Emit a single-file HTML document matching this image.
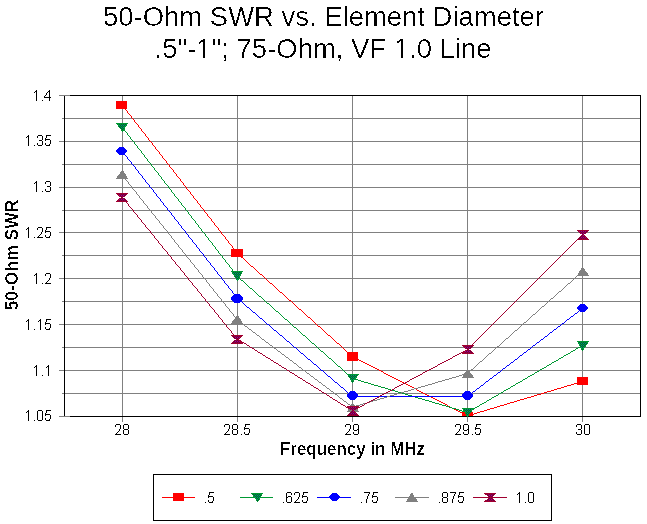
<!DOCTYPE html><html><head><meta charset="utf-8"><title>50-Ohm SWR vs. Element Diameter</title><style>
html,body{margin:0;padding:0;background:#fff;}body{width:647px;height:524px;overflow:hidden;position:relative;font-family:"Liberation Sans",sans-serif;}svg{position:absolute;left:0;top:0;display:block;}
</style></head><body>
<svg width="647" height="524" viewBox="0 0 647 524">
<defs>
<filter id="bin" x="0" y="0" width="647" height="524" filterUnits="userSpaceOnUse"><feComponentTransfer><feFuncA type="discrete" tableValues="0 0 1"/></feComponentTransfer></filter>
</defs>
<g font-family="Liberation Sans, sans-serif" fill="#000" filter="url(#bin)">
<text x="323.5" y="26" font-size="28" text-anchor="middle" textLength="441" lengthAdjust="spacingAndGlyphs">50-Ohm SWR vs. Element Diameter</text>
<text x="323" y="58" font-size="28" text-anchor="middle" textLength="337" lengthAdjust="spacingAndGlyphs">.5"-1"; 75-Ohm, VF 1.0 Line</text>
<text transform="translate(18,255) rotate(-90)" font-size="18" font-weight="bold" text-anchor="middle" textLength="111" lengthAdjust="spacingAndGlyphs">50-Ohm SWR</text>
<text x="352.5" y="455" font-size="18" font-weight="bold" text-anchor="middle" textLength="145" lengthAdjust="spacingAndGlyphs">Frequency in MHz</text>
</g>
<path d="M198 56h5v2h-5zM205 56h5v2h-5zM396 56h5v2h-5zM403 56h4v2h-4z" fill="#fff" shape-rendering="crispEdges"/>
<path d="M36 90h1v1h-1zM49 90h1v1h-1zM35 91h2v1h-2zM48 91h2v1h-2zM34 92h1v1h-1zM36 92h1v1h-1zM47 92h1v1h-1zM49 92h1v1h-1zM36 93h1v1h-1zM46 93h1v1h-1zM49 93h1v1h-1zM36 94h1v1h-1zM46 94h1v1h-1zM49 94h1v1h-1zM36 95h1v1h-1zM45 95h1v1h-1zM49 95h1v1h-1zM36 96h1v1h-1zM44 96h1v1h-1zM49 96h1v1h-1zM36 97h1v1h-1zM44 97h7v1h-7zM36 98h1v1h-1zM49 98h1v1h-1zM36 99h1v1h-1zM49 99h1v1h-1zM36 100h1v1h-1zM42 100h1v1h-1zM49 100h1v1h-1zM28 135h1v1h-1zM38 135h4v1h-4zM46 135h5v1h-5zM27 136h2v1h-2zM37 136h1v1h-1zM42 136h1v1h-1zM46 136h1v1h-1zM26 137h1v1h-1zM28 137h1v1h-1zM37 137h1v1h-1zM42 137h1v1h-1zM46 137h1v1h-1zM28 138h1v1h-1zM42 138h1v1h-1zM45 138h1v1h-1zM28 139h1v1h-1zM42 139h1v1h-1zM45 139h5v1h-5zM28 140h1v1h-1zM39 140h3v1h-3zM45 140h1v1h-1zM50 140h1v1h-1zM28 141h1v1h-1zM42 141h1v1h-1zM50 141h1v1h-1zM28 142h1v1h-1zM42 142h1v1h-1zM50 142h1v1h-1zM28 143h1v1h-1zM37 143h1v1h-1zM42 143h1v1h-1zM45 143h1v1h-1zM50 143h1v1h-1zM28 144h1v1h-1zM37 144h1v1h-1zM42 144h1v1h-1zM45 144h1v1h-1zM49 144h1v1h-1zM28 145h1v1h-1zM34 145h1v1h-1zM38 145h4v1h-4zM46 145h4v1h-4zM36 181h1v1h-1zM46 181h4v1h-4zM35 182h2v1h-2zM45 182h1v1h-1zM50 182h1v1h-1zM34 183h1v1h-1zM36 183h1v1h-1zM45 183h1v1h-1zM50 183h1v1h-1zM36 184h1v1h-1zM50 184h1v1h-1zM36 185h1v1h-1zM50 185h1v1h-1zM36 186h1v1h-1zM47 186h3v1h-3zM36 187h1v1h-1zM50 187h1v1h-1zM36 188h1v1h-1zM50 188h1v1h-1zM36 189h1v1h-1zM45 189h1v1h-1zM50 189h1v1h-1zM36 190h1v1h-1zM45 190h1v1h-1zM50 190h1v1h-1zM36 191h1v1h-1zM42 191h1v1h-1zM46 191h4v1h-4zM28 227h1v1h-1zM38 227h4v1h-4zM46 227h5v1h-5zM27 228h2v1h-2zM37 228h1v1h-1zM42 228h1v1h-1zM46 228h1v1h-1zM26 229h1v1h-1zM28 229h1v1h-1zM37 229h1v1h-1zM42 229h1v1h-1zM46 229h1v1h-1zM28 230h1v1h-1zM42 230h1v1h-1zM45 230h1v1h-1zM28 231h1v1h-1zM42 231h1v1h-1zM45 231h5v1h-5zM28 232h1v1h-1zM41 232h1v1h-1zM45 232h1v1h-1zM50 232h1v1h-1zM28 233h1v1h-1zM41 233h1v1h-1zM50 233h1v1h-1zM28 234h1v1h-1zM40 234h1v1h-1zM50 234h1v1h-1zM28 235h1v1h-1zM39 235h1v1h-1zM45 235h1v1h-1zM50 235h1v1h-1zM28 236h1v1h-1zM38 236h1v1h-1zM45 236h1v1h-1zM49 236h1v1h-1zM28 237h1v1h-1zM34 237h1v1h-1zM37 237h6v1h-6zM46 237h4v1h-4zM36 273h1v1h-1zM46 273h4v1h-4zM35 274h2v1h-2zM45 274h1v1h-1zM50 274h1v1h-1zM34 275h1v1h-1zM36 275h1v1h-1zM45 275h1v1h-1zM50 275h1v1h-1zM36 276h1v1h-1zM50 276h1v1h-1zM36 277h1v1h-1zM50 277h1v1h-1zM36 278h1v1h-1zM49 278h1v1h-1zM36 279h1v1h-1zM49 279h1v1h-1zM36 280h1v1h-1zM48 280h1v1h-1zM36 281h1v1h-1zM47 281h1v1h-1zM36 282h1v1h-1zM46 282h1v1h-1zM36 283h1v1h-1zM42 283h1v1h-1zM45 283h6v1h-6zM28 319h1v1h-1zM40 319h1v1h-1zM46 319h5v1h-5zM27 320h2v1h-2zM39 320h2v1h-2zM46 320h1v1h-1zM26 321h1v1h-1zM28 321h1v1h-1zM38 321h1v1h-1zM40 321h1v1h-1zM46 321h1v1h-1zM28 322h1v1h-1zM40 322h1v1h-1zM45 322h1v1h-1zM28 323h1v1h-1zM40 323h1v1h-1zM45 323h5v1h-5zM28 324h1v1h-1zM40 324h1v1h-1zM45 324h1v1h-1zM50 324h1v1h-1zM28 325h1v1h-1zM40 325h1v1h-1zM50 325h1v1h-1zM28 326h1v1h-1zM40 326h1v1h-1zM50 326h1v1h-1zM28 327h1v1h-1zM40 327h1v1h-1zM45 327h1v1h-1zM50 327h1v1h-1zM28 328h1v1h-1zM40 328h1v1h-1zM45 328h1v1h-1zM49 328h1v1h-1zM28 329h1v1h-1zM34 329h1v1h-1zM40 329h1v1h-1zM46 329h4v1h-4zM36 365h1v1h-1zM48 365h1v1h-1zM35 366h2v1h-2zM47 366h2v1h-2zM34 367h1v1h-1zM36 367h1v1h-1zM46 367h1v1h-1zM48 367h1v1h-1zM36 368h1v1h-1zM48 368h1v1h-1zM36 369h1v1h-1zM48 369h1v1h-1zM36 370h1v1h-1zM48 370h1v1h-1zM36 371h1v1h-1zM48 371h1v1h-1zM36 372h1v1h-1zM48 372h1v1h-1zM36 373h1v1h-1zM48 373h1v1h-1zM36 374h1v1h-1zM48 374h1v1h-1zM36 375h1v1h-1zM42 375h1v1h-1zM48 375h1v1h-1zM28 410h1v1h-1zM38 410h4v1h-4zM46 410h5v1h-5zM27 411h2v1h-2zM37 411h1v1h-1zM42 411h1v1h-1zM46 411h1v1h-1zM26 412h1v1h-1zM28 412h1v1h-1zM37 412h1v1h-1zM42 412h1v1h-1zM46 412h1v1h-1zM28 413h1v1h-1zM37 413h1v1h-1zM42 413h1v1h-1zM45 413h1v1h-1zM28 414h1v1h-1zM37 414h1v1h-1zM42 414h1v1h-1zM45 414h5v1h-5zM28 415h1v1h-1zM37 415h1v1h-1zM42 415h1v1h-1zM45 415h1v1h-1zM50 415h1v1h-1zM28 416h1v1h-1zM37 416h1v1h-1zM42 416h1v1h-1zM50 416h1v1h-1zM28 417h1v1h-1zM37 417h1v1h-1zM42 417h1v1h-1zM50 417h1v1h-1zM28 418h1v1h-1zM37 418h1v1h-1zM42 418h1v1h-1zM45 418h1v1h-1zM50 418h1v1h-1zM28 419h1v1h-1zM37 419h1v1h-1zM42 419h1v1h-1zM45 419h1v1h-1zM49 419h1v1h-1zM28 420h1v1h-1zM34 420h1v1h-1zM38 420h4v1h-4zM46 420h4v1h-4zM116 424h4v1h-4zM124 424h4v1h-4zM115 425h1v1h-1zM120 425h1v1h-1zM123 425h1v1h-1zM128 425h1v1h-1zM115 426h1v1h-1zM120 426h1v1h-1zM123 426h1v1h-1zM128 426h1v1h-1zM120 427h1v1h-1zM123 427h1v1h-1zM128 427h1v1h-1zM120 428h1v1h-1zM123 428h1v1h-1zM128 428h1v1h-1zM119 429h1v1h-1zM124 429h4v1h-4zM119 430h1v1h-1zM123 430h1v1h-1zM128 430h1v1h-1zM118 431h1v1h-1zM123 431h1v1h-1zM128 431h1v1h-1zM117 432h1v1h-1zM123 432h1v1h-1zM128 432h1v1h-1zM116 433h1v1h-1zM123 433h1v1h-1zM128 433h1v1h-1zM115 434h6v1h-6zM124 434h4v1h-4zM225 424h4v1h-4zM233 424h4v1h-4zM245 424h5v1h-5zM224 425h1v1h-1zM229 425h1v1h-1zM232 425h1v1h-1zM237 425h1v1h-1zM245 425h1v1h-1zM224 426h1v1h-1zM229 426h1v1h-1zM232 426h1v1h-1zM237 426h1v1h-1zM245 426h1v1h-1zM229 427h1v1h-1zM232 427h1v1h-1zM237 427h1v1h-1zM244 427h1v1h-1zM229 428h1v1h-1zM232 428h1v1h-1zM237 428h1v1h-1zM244 428h5v1h-5zM228 429h1v1h-1zM233 429h4v1h-4zM244 429h1v1h-1zM249 429h1v1h-1zM228 430h1v1h-1zM232 430h1v1h-1zM237 430h1v1h-1zM249 430h1v1h-1zM227 431h1v1h-1zM232 431h1v1h-1zM237 431h1v1h-1zM249 431h1v1h-1zM226 432h1v1h-1zM232 432h1v1h-1zM237 432h1v1h-1zM244 432h1v1h-1zM249 432h1v1h-1zM225 433h1v1h-1zM232 433h1v1h-1zM237 433h1v1h-1zM244 433h1v1h-1zM248 433h1v1h-1zM224 434h6v1h-6zM233 434h4v1h-4zM241 434h1v1h-1zM245 434h4v1h-4zM346 424h4v1h-4zM354 424h4v1h-4zM345 425h1v1h-1zM350 425h1v1h-1zM353 425h1v1h-1zM358 425h1v1h-1zM345 426h1v1h-1zM350 426h1v1h-1zM353 426h1v1h-1zM358 426h1v1h-1zM350 427h1v1h-1zM353 427h1v1h-1zM358 427h1v1h-1zM350 428h1v1h-1zM353 428h1v1h-1zM358 428h1v1h-1zM349 429h1v1h-1zM353 429h1v1h-1zM357 429h2v1h-2zM349 430h1v1h-1zM354 430h3v1h-3zM358 430h1v1h-1zM348 431h1v1h-1zM358 431h1v1h-1zM347 432h1v1h-1zM353 432h1v1h-1zM358 432h1v1h-1zM346 433h1v1h-1zM353 433h1v1h-1zM358 433h1v1h-1zM345 434h6v1h-6zM354 434h4v1h-4zM456 424h4v1h-4zM464 424h4v1h-4zM476 424h5v1h-5zM455 425h1v1h-1zM460 425h1v1h-1zM463 425h1v1h-1zM468 425h1v1h-1zM476 425h1v1h-1zM455 426h1v1h-1zM460 426h1v1h-1zM463 426h1v1h-1zM468 426h1v1h-1zM476 426h1v1h-1zM460 427h1v1h-1zM463 427h1v1h-1zM468 427h1v1h-1zM475 427h1v1h-1zM460 428h1v1h-1zM463 428h1v1h-1zM468 428h1v1h-1zM475 428h5v1h-5zM459 429h1v1h-1zM463 429h1v1h-1zM467 429h2v1h-2zM475 429h1v1h-1zM480 429h1v1h-1zM459 430h1v1h-1zM464 430h3v1h-3zM468 430h1v1h-1zM480 430h1v1h-1zM458 431h1v1h-1zM468 431h1v1h-1zM480 431h1v1h-1zM457 432h1v1h-1zM463 432h1v1h-1zM468 432h1v1h-1zM475 432h1v1h-1zM480 432h1v1h-1zM456 433h1v1h-1zM463 433h1v1h-1zM468 433h1v1h-1zM475 433h1v1h-1zM479 433h1v1h-1zM455 434h6v1h-6zM464 434h4v1h-4zM472 434h1v1h-1zM476 434h4v1h-4zM577 424h4v1h-4zM585 424h4v1h-4zM576 425h1v1h-1zM581 425h1v1h-1zM584 425h1v1h-1zM589 425h1v1h-1zM576 426h1v1h-1zM581 426h1v1h-1zM584 426h1v1h-1zM589 426h1v1h-1zM581 427h1v1h-1zM584 427h1v1h-1zM589 427h1v1h-1zM581 428h1v1h-1zM584 428h1v1h-1zM589 428h1v1h-1zM578 429h3v1h-3zM584 429h1v1h-1zM589 429h1v1h-1zM581 430h1v1h-1zM584 430h1v1h-1zM589 430h1v1h-1zM581 431h1v1h-1zM584 431h1v1h-1zM589 431h1v1h-1zM576 432h1v1h-1zM581 432h1v1h-1zM584 432h1v1h-1zM589 432h1v1h-1zM576 433h1v1h-1zM581 433h1v1h-1zM584 433h1v1h-1zM589 433h1v1h-1zM577 434h4v1h-4zM585 434h4v1h-4zM209 492h5v1h-5zM209 493h1v1h-1zM209 494h1v1h-1zM208 495h1v1h-1zM208 496h5v1h-5zM208 497h1v1h-1zM213 497h1v1h-1zM213 498h1v1h-1zM213 499h1v1h-1zM208 500h1v1h-1zM213 500h1v1h-1zM208 501h1v1h-1zM212 501h1v1h-1zM205 502h1v1h-1zM209 502h4v1h-4zM287 492h4v1h-4zM295 492h4v1h-4zM303 492h5v1h-5zM286 493h1v1h-1zM291 493h1v1h-1zM294 493h1v1h-1zM299 493h1v1h-1zM303 493h1v1h-1zM286 494h1v1h-1zM291 494h1v1h-1zM294 494h1v1h-1zM299 494h1v1h-1zM303 494h1v1h-1zM286 495h1v1h-1zM299 495h1v1h-1zM302 495h1v1h-1zM286 496h1v1h-1zM288 496h3v1h-3zM299 496h1v1h-1zM302 496h5v1h-5zM286 497h2v1h-2zM291 497h1v1h-1zM298 497h1v1h-1zM302 497h1v1h-1zM307 497h1v1h-1zM286 498h1v1h-1zM291 498h1v1h-1zM298 498h1v1h-1zM307 498h1v1h-1zM286 499h1v1h-1zM291 499h1v1h-1zM297 499h1v1h-1zM307 499h1v1h-1zM286 500h1v1h-1zM291 500h1v1h-1zM296 500h1v1h-1zM302 500h1v1h-1zM307 500h1v1h-1zM286 501h1v1h-1zM291 501h1v1h-1zM295 501h1v1h-1zM302 501h1v1h-1zM306 501h1v1h-1zM283 502h1v1h-1zM287 502h4v1h-4zM294 502h6v1h-6zM303 502h4v1h-4zM364 492h6v1h-6zM373 492h5v1h-5zM369 493h1v1h-1zM373 493h1v1h-1zM368 494h1v1h-1zM373 494h1v1h-1zM368 495h1v1h-1zM372 495h1v1h-1zM367 496h1v1h-1zM372 496h5v1h-5zM367 497h1v1h-1zM372 497h1v1h-1zM377 497h1v1h-1zM367 498h1v1h-1zM377 498h1v1h-1zM366 499h1v1h-1zM377 499h1v1h-1zM366 500h1v1h-1zM372 500h1v1h-1zM377 500h1v1h-1zM366 501h1v1h-1zM372 501h1v1h-1zM376 501h1v1h-1zM361 502h1v1h-1zM366 502h1v1h-1zM373 502h4v1h-4zM443 492h4v1h-4zM450 492h6v1h-6zM459 492h5v1h-5zM442 493h1v1h-1zM447 493h1v1h-1zM455 493h1v1h-1zM459 493h1v1h-1zM442 494h1v1h-1zM447 494h1v1h-1zM454 494h1v1h-1zM459 494h1v1h-1zM442 495h1v1h-1zM447 495h1v1h-1zM454 495h1v1h-1zM458 495h1v1h-1zM442 496h1v1h-1zM447 496h1v1h-1zM453 496h1v1h-1zM458 496h5v1h-5zM443 497h4v1h-4zM453 497h1v1h-1zM458 497h1v1h-1zM463 497h1v1h-1zM442 498h1v1h-1zM447 498h1v1h-1zM453 498h1v1h-1zM463 498h1v1h-1zM442 499h1v1h-1zM447 499h1v1h-1zM452 499h1v1h-1zM463 499h1v1h-1zM442 500h1v1h-1zM447 500h1v1h-1zM452 500h1v1h-1zM458 500h1v1h-1zM463 500h1v1h-1zM442 501h1v1h-1zM447 501h1v1h-1zM452 501h1v1h-1zM458 501h1v1h-1zM462 501h1v1h-1zM439 502h1v1h-1zM443 502h4v1h-4zM452 502h1v1h-1zM459 502h4v1h-4zM519 492h1v1h-1zM529 492h4v1h-4zM518 493h2v1h-2zM528 493h1v1h-1zM533 493h1v1h-1zM517 494h1v1h-1zM519 494h1v1h-1zM528 494h1v1h-1zM533 494h1v1h-1zM519 495h1v1h-1zM528 495h1v1h-1zM533 495h1v1h-1zM519 496h1v1h-1zM528 496h1v1h-1zM533 496h1v1h-1zM519 497h1v1h-1zM528 497h1v1h-1zM533 497h1v1h-1zM519 498h1v1h-1zM528 498h1v1h-1zM533 498h1v1h-1zM519 499h1v1h-1zM528 499h1v1h-1zM533 499h1v1h-1zM519 500h1v1h-1zM528 500h1v1h-1zM533 500h1v1h-1zM519 501h1v1h-1zM528 501h1v1h-1zM533 501h1v1h-1zM519 502h1v1h-1zM525 502h1v1h-1zM529 502h4v1h-4z" fill="#000" shape-rendering="crispEdges"/>
<g shape-rendering="crispEdges" stroke-width="1" fill="none">
<path d="M59 95.5H70" stroke="#808080"/>
<path d="M70 95.5H641" stroke="#000"/>
<path d="M62 118.5H640" stroke="#808080"/>
<path d="M59 141.5H640" stroke="#808080"/>
<path d="M62 164.5H640" stroke="#808080"/>
<path d="M59 187.5H640" stroke="#808080"/>
<path d="M62 210.5H640" stroke="#808080"/>
<path d="M59 232.5H640" stroke="#808080"/>
<path d="M62 255.5H640" stroke="#808080"/>
<path d="M59 278.5H640" stroke="#808080"/>
<path d="M62 301.5H640" stroke="#808080"/>
<path d="M59 324.5H640" stroke="#808080"/>
<path d="M62 347.5H640" stroke="#808080"/>
<path d="M59 370.5H640" stroke="#808080"/>
<path d="M62 393.5H640" stroke="#808080"/>
<path d="M59 416.5H70" stroke="#808080"/>
<path d="M70 416.5H641" stroke="#000"/>
<path d="M122.5 96V422" stroke="#808080"/>
<path d="M237.5 96V422" stroke="#808080"/>
<path d="M352.5 96V422" stroke="#808080"/>
<path d="M467.5 96V422" stroke="#808080"/>
<path d="M582.5 96V422" stroke="#808080"/>
<path d="M64.5 96V416" stroke="#000"/>
<path d="M640.5 95V417" stroke="#000"/>
</g>
<g shape-rendering="crispEdges">
<path d="M122 105h1v1h-1zM123 106h1v1h-1zM124 107h1v1h-1zM124 108h1v1h-1zM125 109h1v1h-1zM126 110h1v1h-1zM127 111h1v1h-1zM127 112h1v1h-1zM128 113h1v1h-1zM129 114h1v1h-1zM130 115h1v1h-1zM131 116h1v1h-1zM131 117h1v1h-1zM132 118h1v1h-1zM133 119h1v1h-1zM134 120h1v1h-1zM134 121h1v1h-1zM135 122h1v1h-1zM136 123h1v1h-1zM137 124h1v1h-1zM138 125h1v1h-1zM138 126h1v1h-1zM139 127h1v1h-1zM140 128h1v1h-1zM141 129h1v1h-1zM141 130h1v1h-1zM142 131h1v1h-1zM143 132h1v1h-1zM144 133h1v1h-1zM145 134h1v1h-1zM145 135h1v1h-1zM146 136h1v1h-1zM147 137h1v1h-1zM148 138h1v1h-1zM148 139h1v1h-1zM149 140h1v1h-1zM150 141h1v1h-1zM151 142h1v1h-1zM152 143h1v1h-1zM152 144h1v1h-1zM153 145h1v1h-1zM154 146h1v1h-1zM155 147h1v1h-1zM155 148h1v1h-1zM156 149h1v1h-1zM157 150h1v1h-1zM158 151h1v1h-1zM159 152h1v1h-1zM159 153h1v1h-1zM160 154h1v1h-1zM161 155h1v1h-1zM162 156h1v1h-1zM162 157h1v1h-1zM163 158h1v1h-1zM164 159h1v1h-1zM165 160h1v1h-1zM166 161h1v1h-1zM166 162h1v1h-1zM167 163h1v1h-1zM168 164h1v1h-1zM169 165h1v1h-1zM169 166h1v1h-1zM170 167h1v1h-1zM171 168h1v1h-1zM172 169h1v1h-1zM173 170h1v1h-1zM173 171h1v1h-1zM174 172h1v1h-1zM175 173h1v1h-1zM176 174h1v1h-1zM176 175h1v1h-1zM177 176h1v1h-1zM178 177h1v1h-1zM179 178h1v1h-1zM180 179h1v1h-1zM180 180h1v1h-1zM181 181h1v1h-1zM182 182h1v1h-1zM183 183h1v1h-1zM183 184h1v1h-1zM184 185h1v1h-1zM185 186h1v1h-1zM186 187h1v1h-1zM186 188h1v1h-1zM187 189h1v1h-1zM188 190h1v1h-1zM189 191h1v1h-1zM190 192h1v1h-1zM190 193h1v1h-1zM191 194h1v1h-1zM192 195h1v1h-1zM193 196h1v1h-1zM193 197h1v1h-1zM194 198h1v1h-1zM195 199h1v1h-1zM196 200h1v1h-1zM197 201h1v1h-1zM197 202h1v1h-1zM198 203h1v1h-1zM199 204h1v1h-1zM200 205h1v1h-1zM200 206h1v1h-1zM201 207h1v1h-1zM202 208h1v1h-1zM203 209h1v1h-1zM204 210h1v1h-1zM204 211h1v1h-1zM205 212h1v1h-1zM206 213h1v1h-1zM207 214h1v1h-1zM207 215h1v1h-1zM208 216h1v1h-1zM209 217h1v1h-1zM210 218h1v1h-1zM211 219h1v1h-1zM211 220h1v1h-1zM212 221h1v1h-1zM213 222h1v1h-1zM214 223h1v1h-1zM214 224h1v1h-1zM215 225h1v1h-1zM216 226h1v1h-1zM217 227h1v1h-1zM218 228h1v1h-1zM218 229h1v1h-1zM219 230h1v1h-1zM220 231h1v1h-1zM221 232h1v1h-1zM221 233h1v1h-1zM222 234h1v1h-1zM223 235h1v1h-1zM224 236h1v1h-1zM225 237h1v1h-1zM225 238h1v1h-1zM226 239h1v1h-1zM227 240h1v1h-1zM228 241h1v1h-1zM228 242h1v1h-1zM229 243h1v1h-1zM230 244h1v1h-1zM231 245h1v1h-1zM232 246h1v1h-1zM232 247h1v1h-1zM233 248h1v1h-1zM234 249h1v1h-1zM235 250h1v1h-1zM235 251h1v1h-1zM236 252h1v1h-1zM237 253h1v1h-1zM238 254h1v1h-1zM239 255h1v1h-1zM240 256h1v1h-1zM241 257h2v1h-2zM243 258h1v1h-1zM244 259h1v1h-1zM245 260h1v1h-1zM246 261h1v1h-1zM247 262h1v1h-1zM248 263h1v1h-1zM249 264h1v1h-1zM250 265h1v1h-1zM251 266h2v1h-2zM253 267h1v1h-1zM254 268h1v1h-1zM255 269h1v1h-1zM256 270h1v1h-1zM257 271h1v1h-1zM258 272h1v1h-1zM259 273h1v1h-1zM260 274h2v1h-2zM262 275h1v1h-1zM263 276h1v1h-1zM264 277h1v1h-1zM265 278h1v1h-1zM266 279h1v1h-1zM267 280h1v1h-1zM268 281h1v1h-1zM269 282h1v1h-1zM270 283h2v1h-2zM272 284h1v1h-1zM273 285h1v1h-1zM274 286h1v1h-1zM275 287h1v1h-1zM276 288h1v1h-1zM277 289h1v1h-1zM278 290h1v1h-1zM279 291h1v1h-1zM280 292h2v1h-2zM282 293h1v1h-1zM283 294h1v1h-1zM284 295h1v1h-1zM285 296h1v1h-1zM286 297h1v1h-1zM287 298h1v1h-1zM288 299h1v1h-1zM289 300h2v1h-2zM291 301h1v1h-1zM292 302h1v1h-1zM293 303h1v1h-1zM294 304h1v1h-1zM295 305h1v1h-1zM296 306h1v1h-1zM297 307h1v1h-1zM298 308h1v1h-1zM299 309h2v1h-2zM301 310h1v1h-1zM302 311h1v1h-1zM303 312h1v1h-1zM304 313h1v1h-1zM305 314h1v1h-1zM306 315h1v1h-1zM307 316h1v1h-1zM308 317h2v1h-2zM310 318h1v1h-1zM311 319h1v1h-1zM312 320h1v1h-1zM313 321h1v1h-1zM314 322h1v1h-1zM315 323h1v1h-1zM316 324h1v1h-1zM317 325h1v1h-1zM318 326h2v1h-2zM320 327h1v1h-1zM321 328h1v1h-1zM322 329h1v1h-1zM323 330h1v1h-1zM324 331h1v1h-1zM325 332h1v1h-1zM326 333h1v1h-1zM327 334h1v1h-1zM328 335h2v1h-2zM330 336h1v1h-1zM331 337h1v1h-1zM332 338h1v1h-1zM333 339h1v1h-1zM334 340h1v1h-1zM335 341h1v1h-1zM336 342h1v1h-1zM337 343h2v1h-2zM339 344h1v1h-1zM340 345h1v1h-1zM341 346h1v1h-1zM342 347h1v1h-1zM343 348h1v1h-1zM344 349h1v1h-1zM345 350h1v1h-1zM346 351h1v1h-1zM347 352h2v1h-2zM349 353h1v1h-1zM350 354h1v1h-1zM351 355h1v1h-1zM352 356h1v1h-1zM353 357h2v1h-2zM355 358h2v1h-2zM357 359h2v1h-2zM359 360h2v1h-2zM361 361h2v1h-2zM363 362h2v1h-2zM365 363h2v1h-2zM367 364h2v1h-2zM369 365h2v1h-2zM371 366h2v1h-2zM373 367h2v1h-2zM375 368h2v1h-2zM377 369h2v1h-2zM379 370h2v1h-2zM381 371h2v1h-2zM383 372h1v1h-1zM384 373h2v1h-2zM386 374h2v1h-2zM388 375h2v1h-2zM390 376h2v1h-2zM392 377h2v1h-2zM394 378h2v1h-2zM396 379h2v1h-2zM398 380h2v1h-2zM400 381h2v1h-2zM581 381h2v1h-2zM402 382h2v1h-2zM577 382h4v1h-4zM404 383h2v1h-2zM574 383h3v1h-3zM406 384h2v1h-2zM571 384h3v1h-3zM408 385h2v1h-2zM567 385h4v1h-4zM410 386h2v1h-2zM564 386h3v1h-3zM412 387h2v1h-2zM561 387h3v1h-3zM414 388h2v1h-2zM557 388h4v1h-4zM416 389h1v1h-1zM554 389h3v1h-3zM417 390h2v1h-2zM551 390h3v1h-3zM419 391h2v1h-2zM547 391h4v1h-4zM421 392h2v1h-2zM544 392h3v1h-3zM423 393h2v1h-2zM541 393h3v1h-3zM425 394h2v1h-2zM537 394h4v1h-4zM427 395h2v1h-2zM534 395h3v1h-3zM429 396h2v1h-2zM531 396h3v1h-3zM431 397h2v1h-2zM527 397h4v1h-4zM433 398h2v1h-2zM524 398h3v1h-3zM435 399h2v1h-2zM520 399h4v1h-4zM437 400h2v1h-2zM517 400h3v1h-3zM439 401h2v1h-2zM514 401h3v1h-3zM441 402h2v1h-2zM510 402h4v1h-4zM443 403h2v1h-2zM507 403h3v1h-3zM445 404h2v1h-2zM504 404h3v1h-3zM447 405h1v1h-1zM500 405h4v1h-4zM448 406h2v1h-2zM497 406h3v1h-3zM450 407h2v1h-2zM494 407h3v1h-3zM452 408h2v1h-2zM490 408h4v1h-4zM454 409h2v1h-2zM487 409h3v1h-3zM456 410h2v1h-2zM484 410h3v1h-3zM458 411h2v1h-2zM480 411h4v1h-4zM460 412h2v1h-2zM477 412h3v1h-3zM462 413h2v1h-2zM474 413h3v1h-3zM464 414h2v1h-2zM470 414h4v1h-4zM466 415h4v1h-4z" fill="#ff0000"/>
<path d="M122 127h1v1h-1zM123 128h1v1h-1zM124 129h1v1h-1zM124 130h1v1h-1zM125 131h1v1h-1zM126 132h1v1h-1zM127 133h1v1h-1zM127 134h1v1h-1zM128 135h1v1h-1zM129 136h1v1h-1zM130 137h1v1h-1zM130 138h1v1h-1zM131 139h1v1h-1zM132 140h1v1h-1zM133 141h1v1h-1zM134 142h1v1h-1zM134 143h1v1h-1zM135 144h1v1h-1zM136 145h1v1h-1zM137 146h1v1h-1zM137 147h1v1h-1zM138 148h1v1h-1zM139 149h1v1h-1zM140 150h1v1h-1zM141 151h1v1h-1zM141 152h1v1h-1zM142 153h1v1h-1zM143 154h1v1h-1zM144 155h1v1h-1zM144 156h1v1h-1zM145 157h1v1h-1zM146 158h1v1h-1zM147 159h1v1h-1zM147 160h1v1h-1zM148 161h1v1h-1zM149 162h1v1h-1zM150 163h1v1h-1zM151 164h1v1h-1zM151 165h1v1h-1zM152 166h1v1h-1zM153 167h1v1h-1zM154 168h1v1h-1zM154 169h1v1h-1zM155 170h1v1h-1zM156 171h1v1h-1zM157 172h1v1h-1zM158 173h1v1h-1zM158 174h1v1h-1zM159 175h1v1h-1zM160 176h1v1h-1zM161 177h1v1h-1zM161 178h1v1h-1zM162 179h1v1h-1zM163 180h1v1h-1zM164 181h1v1h-1zM164 182h1v1h-1zM165 183h1v1h-1zM166 184h1v1h-1zM167 185h1v1h-1zM168 186h1v1h-1zM168 187h1v1h-1zM169 188h1v1h-1zM170 189h1v1h-1zM171 190h1v1h-1zM171 191h1v1h-1zM172 192h1v1h-1zM173 193h1v1h-1zM174 194h1v1h-1zM174 195h1v1h-1zM175 196h1v1h-1zM176 197h1v1h-1zM177 198h1v1h-1zM178 199h1v1h-1zM178 200h1v1h-1zM179 201h1v1h-1zM180 202h1v1h-1zM181 203h1v1h-1zM181 204h1v1h-1zM182 205h1v1h-1zM183 206h1v1h-1zM184 207h1v1h-1zM185 208h1v1h-1zM185 209h1v1h-1zM186 210h1v1h-1zM187 211h1v1h-1zM188 212h1v1h-1zM188 213h1v1h-1zM189 214h1v1h-1zM190 215h1v1h-1zM191 216h1v1h-1zM191 217h1v1h-1zM192 218h1v1h-1zM193 219h1v1h-1zM194 220h1v1h-1zM195 221h1v1h-1zM195 222h1v1h-1zM196 223h1v1h-1zM197 224h1v1h-1zM198 225h1v1h-1zM198 226h1v1h-1zM199 227h1v1h-1zM200 228h1v1h-1zM201 229h1v1h-1zM201 230h1v1h-1zM202 231h1v1h-1zM203 232h1v1h-1zM204 233h1v1h-1zM205 234h1v1h-1zM205 235h1v1h-1zM206 236h1v1h-1zM207 237h1v1h-1zM208 238h1v1h-1zM208 239h1v1h-1zM209 240h1v1h-1zM210 241h1v1h-1zM211 242h1v1h-1zM212 243h1v1h-1zM212 244h1v1h-1zM213 245h1v1h-1zM214 246h1v1h-1zM215 247h1v1h-1zM215 248h1v1h-1zM216 249h1v1h-1zM217 250h1v1h-1zM218 251h1v1h-1zM218 252h1v1h-1zM219 253h1v1h-1zM220 254h1v1h-1zM221 255h1v1h-1zM222 256h1v1h-1zM222 257h1v1h-1zM223 258h1v1h-1zM224 259h1v1h-1zM225 260h1v1h-1zM225 261h1v1h-1zM226 262h1v1h-1zM227 263h1v1h-1zM228 264h1v1h-1zM229 265h1v1h-1zM229 266h1v1h-1zM230 267h1v1h-1zM231 268h1v1h-1zM232 269h1v1h-1zM232 270h1v1h-1zM233 271h1v1h-1zM234 272h1v1h-1zM235 273h1v1h-1zM235 274h1v1h-1zM236 275h1v1h-1zM237 276h1v1h-1zM238 277h1v1h-1zM239 278h1v1h-1zM240 279h1v1h-1zM241 280h2v1h-2zM243 281h1v1h-1zM244 282h1v1h-1zM245 283h1v1h-1zM246 284h1v1h-1zM247 285h1v1h-1zM248 286h1v1h-1zM249 287h1v1h-1zM250 288h2v1h-2zM252 289h1v1h-1zM253 290h1v1h-1zM254 291h1v1h-1zM255 292h1v1h-1zM256 293h1v1h-1zM257 294h1v1h-1zM258 295h1v1h-1zM259 296h2v1h-2zM261 297h1v1h-1zM262 298h1v1h-1zM263 299h1v1h-1zM264 300h1v1h-1zM265 301h1v1h-1zM266 302h1v1h-1zM267 303h2v1h-2zM269 304h1v1h-1zM270 305h1v1h-1zM271 306h1v1h-1zM272 307h1v1h-1zM273 308h1v1h-1zM274 309h1v1h-1zM275 310h1v1h-1zM276 311h2v1h-2zM278 312h1v1h-1zM279 313h1v1h-1zM280 314h1v1h-1zM281 315h1v1h-1zM282 316h1v1h-1zM283 317h1v1h-1zM284 318h1v1h-1zM285 319h2v1h-2zM287 320h1v1h-1zM288 321h1v1h-1zM289 322h1v1h-1zM290 323h1v1h-1zM291 324h1v1h-1zM292 325h1v1h-1zM293 326h1v1h-1zM294 327h2v1h-2zM296 328h1v1h-1zM297 329h1v1h-1zM298 330h1v1h-1zM299 331h1v1h-1zM300 332h1v1h-1zM301 333h1v1h-1zM302 334h1v1h-1zM303 335h2v1h-2zM305 336h1v1h-1zM306 337h1v1h-1zM307 338h1v1h-1zM308 339h1v1h-1zM309 340h1v1h-1zM310 341h1v1h-1zM311 342h1v1h-1zM312 343h2v1h-2zM314 344h1v1h-1zM315 345h1v1h-1zM582 345h1v1h-1zM316 346h1v1h-1zM580 346h2v1h-2zM317 347h1v1h-1zM578 347h2v1h-2zM318 348h1v1h-1zM576 348h2v1h-2zM319 349h1v1h-1zM575 349h1v1h-1zM320 350h1v1h-1zM573 350h2v1h-2zM321 351h2v1h-2zM571 351h2v1h-2zM323 352h1v1h-1zM570 352h1v1h-1zM324 353h1v1h-1zM568 353h2v1h-2zM325 354h1v1h-1zM566 354h2v1h-2zM326 355h1v1h-1zM564 355h2v1h-2zM327 356h1v1h-1zM563 356h1v1h-1zM328 357h1v1h-1zM561 357h2v1h-2zM329 358h2v1h-2zM559 358h2v1h-2zM331 359h1v1h-1zM558 359h1v1h-1zM332 360h1v1h-1zM556 360h2v1h-2zM333 361h1v1h-1zM554 361h2v1h-2zM334 362h1v1h-1zM552 362h2v1h-2zM335 363h1v1h-1zM551 363h1v1h-1zM336 364h1v1h-1zM549 364h2v1h-2zM337 365h1v1h-1zM547 365h2v1h-2zM338 366h2v1h-2zM546 366h1v1h-1zM340 367h1v1h-1zM544 367h2v1h-2zM341 368h1v1h-1zM542 368h2v1h-2zM342 369h1v1h-1zM540 369h2v1h-2zM343 370h1v1h-1zM539 370h1v1h-1zM344 371h1v1h-1zM537 371h2v1h-2zM345 372h1v1h-1zM535 372h2v1h-2zM346 373h1v1h-1zM534 373h1v1h-1zM347 374h2v1h-2zM532 374h2v1h-2zM349 375h1v1h-1zM530 375h2v1h-2zM350 376h1v1h-1zM528 376h2v1h-2zM351 377h1v1h-1zM527 377h1v1h-1zM352 378h2v1h-2zM525 378h2v1h-2zM354 379h4v1h-4zM523 379h2v1h-2zM358 380h3v1h-3zM522 380h1v1h-1zM361 381h3v1h-3zM520 381h2v1h-2zM364 382h4v1h-4zM518 382h2v1h-2zM368 383h3v1h-3zM516 383h2v1h-2zM371 384h3v1h-3zM515 384h1v1h-1zM374 385h4v1h-4zM513 385h2v1h-2zM378 386h3v1h-3zM511 386h2v1h-2zM381 387h4v1h-4zM510 387h1v1h-1zM385 388h3v1h-3zM508 388h2v1h-2zM388 389h3v1h-3zM506 389h2v1h-2zM391 390h4v1h-4zM504 390h2v1h-2zM395 391h3v1h-3zM503 391h1v1h-1zM398 392h4v1h-4zM501 392h2v1h-2zM402 393h3v1h-3zM499 393h2v1h-2zM405 394h3v1h-3zM498 394h1v1h-1zM408 395h4v1h-4zM496 395h2v1h-2zM412 396h3v1h-3zM494 396h2v1h-2zM415 397h3v1h-3zM492 397h2v1h-2zM418 398h4v1h-4zM491 398h1v1h-1zM422 399h3v1h-3zM489 399h2v1h-2zM425 400h4v1h-4zM487 400h2v1h-2zM429 401h3v1h-3zM486 401h1v1h-1zM432 402h3v1h-3zM484 402h2v1h-2zM435 403h4v1h-4zM482 403h2v1h-2zM439 404h3v1h-3zM480 404h2v1h-2zM442 405h4v1h-4zM479 405h1v1h-1zM446 406h3v1h-3zM477 406h2v1h-2zM449 407h3v1h-3zM475 407h2v1h-2zM452 408h4v1h-4zM474 408h1v1h-1zM456 409h3v1h-3zM472 409h2v1h-2zM459 410h3v1h-3zM470 410h2v1h-2zM462 411h4v1h-4zM468 411h2v1h-2zM466 412h2v1h-2z" fill="#009933"/>
<path d="M122 151h1v1h-1zM123 152h1v1h-1zM124 153h1v1h-1zM124 154h1v1h-1zM125 155h1v1h-1zM126 156h1v1h-1zM127 157h1v1h-1zM127 158h1v1h-1zM128 159h1v1h-1zM129 160h1v1h-1zM130 161h1v1h-1zM131 162h1v1h-1zM131 163h1v1h-1zM132 164h1v1h-1zM133 165h1v1h-1zM134 166h1v1h-1zM135 167h1v1h-1zM135 168h1v1h-1zM136 169h1v1h-1zM137 170h1v1h-1zM138 171h1v1h-1zM138 172h1v1h-1zM139 173h1v1h-1zM140 174h1v1h-1zM141 175h1v1h-1zM142 176h1v1h-1zM142 177h1v1h-1zM143 178h1v1h-1zM144 179h1v1h-1zM145 180h1v1h-1zM145 181h1v1h-1zM146 182h1v1h-1zM147 183h1v1h-1zM148 184h1v1h-1zM149 185h1v1h-1zM149 186h1v1h-1zM150 187h1v1h-1zM151 188h1v1h-1zM152 189h1v1h-1zM153 190h1v1h-1zM153 191h1v1h-1zM154 192h1v1h-1zM155 193h1v1h-1zM156 194h1v1h-1zM156 195h1v1h-1zM157 196h1v1h-1zM158 197h1v1h-1zM159 198h1v1h-1zM160 199h1v1h-1zM160 200h1v1h-1zM161 201h1v1h-1zM162 202h1v1h-1zM163 203h1v1h-1zM163 204h1v1h-1zM164 205h1v1h-1zM165 206h1v1h-1zM166 207h1v1h-1zM167 208h1v1h-1zM167 209h1v1h-1zM168 210h1v1h-1zM169 211h1v1h-1zM170 212h1v1h-1zM171 213h1v1h-1zM171 214h1v1h-1zM172 215h1v1h-1zM173 216h1v1h-1zM174 217h1v1h-1zM174 218h1v1h-1zM175 219h1v1h-1zM176 220h1v1h-1zM177 221h1v1h-1zM178 222h1v1h-1zM178 223h1v1h-1zM179 224h1v1h-1zM180 225h1v1h-1zM181 226h1v1h-1zM181 227h1v1h-1zM182 228h1v1h-1zM183 229h1v1h-1zM184 230h1v1h-1zM185 231h1v1h-1zM185 232h1v1h-1zM186 233h1v1h-1zM187 234h1v1h-1zM188 235h1v1h-1zM188 236h1v1h-1zM189 237h1v1h-1zM190 238h1v1h-1zM191 239h1v1h-1zM192 240h1v1h-1zM192 241h1v1h-1zM193 242h1v1h-1zM194 243h1v1h-1zM195 244h1v1h-1zM196 245h1v1h-1zM196 246h1v1h-1zM197 247h1v1h-1zM198 248h1v1h-1zM199 249h1v1h-1zM199 250h1v1h-1zM200 251h1v1h-1zM201 252h1v1h-1zM202 253h1v1h-1zM203 254h1v1h-1zM203 255h1v1h-1zM204 256h1v1h-1zM205 257h1v1h-1zM206 258h1v1h-1zM206 259h1v1h-1zM207 260h1v1h-1zM208 261h1v1h-1zM209 262h1v1h-1zM210 263h1v1h-1zM210 264h1v1h-1zM211 265h1v1h-1zM212 266h1v1h-1zM213 267h1v1h-1zM214 268h1v1h-1zM214 269h1v1h-1zM215 270h1v1h-1zM216 271h1v1h-1zM217 272h1v1h-1zM217 273h1v1h-1zM218 274h1v1h-1zM219 275h1v1h-1zM220 276h1v1h-1zM221 277h1v1h-1zM221 278h1v1h-1zM222 279h1v1h-1zM223 280h1v1h-1zM224 281h1v1h-1zM224 282h1v1h-1zM225 283h1v1h-1zM226 284h1v1h-1zM227 285h1v1h-1zM228 286h1v1h-1zM228 287h1v1h-1zM229 288h1v1h-1zM230 289h1v1h-1zM231 290h1v1h-1zM232 291h1v1h-1zM232 292h1v1h-1zM233 293h1v1h-1zM234 294h1v1h-1zM235 295h1v1h-1zM235 296h1v1h-1zM236 297h1v1h-1zM237 298h1v1h-1zM238 299h1v1h-1zM239 300h1v1h-1zM240 301h2v1h-2zM242 302h1v1h-1zM243 303h1v1h-1zM244 304h1v1h-1zM245 305h1v1h-1zM246 306h1v1h-1zM247 307h2v1h-2zM249 308h1v1h-1zM582 308h1v1h-1zM250 309h1v1h-1zM581 309h1v1h-1zM251 310h1v1h-1zM579 310h2v1h-2zM252 311h1v1h-1zM578 311h1v1h-1zM253 312h2v1h-2zM577 312h1v1h-1zM255 313h1v1h-1zM575 313h2v1h-2zM256 314h1v1h-1zM574 314h1v1h-1zM257 315h1v1h-1zM573 315h1v1h-1zM258 316h1v1h-1zM571 316h2v1h-2zM259 317h1v1h-1zM570 317h1v1h-1zM260 318h2v1h-2zM569 318h1v1h-1zM262 319h1v1h-1zM567 319h2v1h-2zM263 320h1v1h-1zM566 320h1v1h-1zM264 321h1v1h-1zM565 321h1v1h-1zM265 322h1v1h-1zM564 322h1v1h-1zM266 323h1v1h-1zM562 323h2v1h-2zM267 324h2v1h-2zM561 324h1v1h-1zM269 325h1v1h-1zM560 325h1v1h-1zM270 326h1v1h-1zM558 326h2v1h-2zM271 327h1v1h-1zM557 327h1v1h-1zM272 328h1v1h-1zM556 328h1v1h-1zM273 329h1v1h-1zM554 329h2v1h-2zM274 330h2v1h-2zM553 330h1v1h-1zM276 331h1v1h-1zM552 331h1v1h-1zM277 332h1v1h-1zM550 332h2v1h-2zM278 333h1v1h-1zM549 333h1v1h-1zM279 334h1v1h-1zM548 334h1v1h-1zM280 335h2v1h-2zM547 335h1v1h-1zM282 336h1v1h-1zM545 336h2v1h-2zM283 337h1v1h-1zM544 337h1v1h-1zM284 338h1v1h-1zM543 338h1v1h-1zM285 339h1v1h-1zM541 339h2v1h-2zM286 340h1v1h-1zM540 340h1v1h-1zM287 341h2v1h-2zM539 341h1v1h-1zM289 342h1v1h-1zM537 342h2v1h-2zM290 343h1v1h-1zM536 343h1v1h-1zM291 344h1v1h-1zM535 344h1v1h-1zM292 345h1v1h-1zM533 345h2v1h-2zM293 346h1v1h-1zM532 346h1v1h-1zM294 347h2v1h-2zM531 347h1v1h-1zM296 348h1v1h-1zM530 348h1v1h-1zM297 349h1v1h-1zM528 349h2v1h-2zM298 350h1v1h-1zM527 350h1v1h-1zM299 351h1v1h-1zM526 351h1v1h-1zM300 352h1v1h-1zM524 352h2v1h-2zM301 353h2v1h-2zM523 353h1v1h-1zM303 354h1v1h-1zM522 354h1v1h-1zM304 355h1v1h-1zM520 355h2v1h-2zM305 356h1v1h-1zM519 356h1v1h-1zM306 357h1v1h-1zM518 357h1v1h-1zM307 358h1v1h-1zM517 358h1v1h-1zM308 359h2v1h-2zM515 359h2v1h-2zM310 360h1v1h-1zM514 360h1v1h-1zM311 361h1v1h-1zM513 361h1v1h-1zM312 362h1v1h-1zM511 362h2v1h-2zM313 363h1v1h-1zM510 363h1v1h-1zM314 364h2v1h-2zM509 364h1v1h-1zM316 365h1v1h-1zM507 365h2v1h-2zM317 366h1v1h-1zM506 366h1v1h-1zM318 367h1v1h-1zM505 367h1v1h-1zM319 368h1v1h-1zM503 368h2v1h-2zM320 369h1v1h-1zM502 369h1v1h-1zM321 370h2v1h-2zM501 370h1v1h-1zM323 371h1v1h-1zM500 371h1v1h-1zM324 372h1v1h-1zM498 372h2v1h-2zM325 373h1v1h-1zM497 373h1v1h-1zM326 374h1v1h-1zM496 374h1v1h-1zM327 375h1v1h-1zM494 375h2v1h-2zM328 376h2v1h-2zM493 376h1v1h-1zM330 377h1v1h-1zM492 377h1v1h-1zM331 378h1v1h-1zM490 378h2v1h-2zM332 379h1v1h-1zM489 379h1v1h-1zM333 380h1v1h-1zM488 380h1v1h-1zM334 381h1v1h-1zM486 381h2v1h-2zM335 382h2v1h-2zM485 382h1v1h-1zM337 383h1v1h-1zM484 383h1v1h-1zM338 384h1v1h-1zM483 384h1v1h-1zM339 385h1v1h-1zM481 385h2v1h-2zM340 386h1v1h-1zM480 386h1v1h-1zM341 387h2v1h-2zM479 387h1v1h-1zM343 388h1v1h-1zM477 388h2v1h-2zM344 389h1v1h-1zM476 389h1v1h-1zM345 390h1v1h-1zM475 390h1v1h-1zM346 391h1v1h-1zM473 391h2v1h-2zM347 392h1v1h-1zM472 392h1v1h-1zM348 393h2v1h-2zM471 393h1v1h-1zM350 394h1v1h-1zM469 394h2v1h-2zM351 395h1v1h-1zM468 395h1v1h-1zM352 396h116v1h-116z" fill="#0000ff"/>
<path d="M122 175h1v1h-1zM123 176h1v1h-1zM124 177h1v1h-1zM124 178h1v1h-1zM125 179h1v1h-1zM126 180h1v1h-1zM127 181h1v1h-1zM128 182h1v1h-1zM128 183h1v1h-1zM129 184h1v1h-1zM130 185h1v1h-1zM131 186h1v1h-1zM132 187h1v1h-1zM132 188h1v1h-1zM133 189h1v1h-1zM134 190h1v1h-1zM135 191h1v1h-1zM136 192h1v1h-1zM136 193h1v1h-1zM137 194h1v1h-1zM138 195h1v1h-1zM139 196h1v1h-1zM139 197h1v1h-1zM140 198h1v1h-1zM141 199h1v1h-1zM142 200h1v1h-1zM143 201h1v1h-1zM143 202h1v1h-1zM144 203h1v1h-1zM145 204h1v1h-1zM146 205h1v1h-1zM147 206h1v1h-1zM147 207h1v1h-1zM148 208h1v1h-1zM149 209h1v1h-1zM150 210h1v1h-1zM151 211h1v1h-1zM151 212h1v1h-1zM152 213h1v1h-1zM153 214h1v1h-1zM154 215h1v1h-1zM155 216h1v1h-1zM155 217h1v1h-1zM156 218h1v1h-1zM157 219h1v1h-1zM158 220h1v1h-1zM159 221h1v1h-1zM159 222h1v1h-1zM160 223h1v1h-1zM161 224h1v1h-1zM162 225h1v1h-1zM163 226h1v1h-1zM163 227h1v1h-1zM164 228h1v1h-1zM165 229h1v1h-1zM166 230h1v1h-1zM167 231h1v1h-1zM167 232h1v1h-1zM168 233h1v1h-1zM169 234h1v1h-1zM170 235h1v1h-1zM171 236h1v1h-1zM171 237h1v1h-1zM172 238h1v1h-1zM173 239h1v1h-1zM174 240h1v1h-1zM174 241h1v1h-1zM175 242h1v1h-1zM176 243h1v1h-1zM177 244h1v1h-1zM178 245h1v1h-1zM178 246h1v1h-1zM179 247h1v1h-1zM180 248h1v1h-1zM181 249h1v1h-1zM182 250h1v1h-1zM182 251h1v1h-1zM183 252h1v1h-1zM184 253h1v1h-1zM185 254h1v1h-1zM186 255h1v1h-1zM186 256h1v1h-1zM187 257h1v1h-1zM188 258h1v1h-1zM189 259h1v1h-1zM190 260h1v1h-1zM190 261h1v1h-1zM191 262h1v1h-1zM192 263h1v1h-1zM193 264h1v1h-1zM194 265h1v1h-1zM194 266h1v1h-1zM195 267h1v1h-1zM196 268h1v1h-1zM197 269h1v1h-1zM198 270h1v1h-1zM198 271h1v1h-1zM582 271h1v1h-1zM199 272h1v1h-1zM581 272h1v1h-1zM200 273h1v1h-1zM580 273h1v1h-1zM201 274h1v1h-1zM579 274h1v1h-1zM202 275h1v1h-1zM577 275h2v1h-2zM202 276h1v1h-1zM576 276h1v1h-1zM203 277h1v1h-1zM575 277h1v1h-1zM204 278h1v1h-1zM574 278h1v1h-1zM205 279h1v1h-1zM573 279h1v1h-1zM206 280h1v1h-1zM572 280h1v1h-1zM206 281h1v1h-1zM571 281h1v1h-1zM207 282h1v1h-1zM570 282h1v1h-1zM208 283h1v1h-1zM568 283h2v1h-2zM209 284h1v1h-1zM567 284h1v1h-1zM209 285h1v1h-1zM566 285h1v1h-1zM210 286h1v1h-1zM565 286h1v1h-1zM211 287h1v1h-1zM564 287h1v1h-1zM212 288h1v1h-1zM563 288h1v1h-1zM213 289h1v1h-1zM562 289h1v1h-1zM213 290h1v1h-1zM561 290h1v1h-1zM214 291h1v1h-1zM559 291h2v1h-2zM215 292h1v1h-1zM558 292h1v1h-1zM216 293h1v1h-1zM557 293h1v1h-1zM217 294h1v1h-1zM556 294h1v1h-1zM217 295h1v1h-1zM555 295h1v1h-1zM218 296h1v1h-1zM554 296h1v1h-1zM219 297h1v1h-1zM553 297h1v1h-1zM220 298h1v1h-1zM551 298h2v1h-2zM221 299h1v1h-1zM550 299h1v1h-1zM221 300h1v1h-1zM549 300h1v1h-1zM222 301h1v1h-1zM548 301h1v1h-1zM223 302h1v1h-1zM547 302h1v1h-1zM224 303h1v1h-1zM546 303h1v1h-1zM225 304h1v1h-1zM545 304h1v1h-1zM225 305h1v1h-1zM544 305h1v1h-1zM226 306h1v1h-1zM542 306h2v1h-2zM227 307h1v1h-1zM541 307h1v1h-1zM228 308h1v1h-1zM540 308h1v1h-1zM229 309h1v1h-1zM539 309h1v1h-1zM229 310h1v1h-1zM538 310h1v1h-1zM230 311h1v1h-1zM537 311h1v1h-1zM231 312h1v1h-1zM536 312h1v1h-1zM232 313h1v1h-1zM535 313h1v1h-1zM233 314h1v1h-1zM533 314h2v1h-2zM233 315h1v1h-1zM532 315h1v1h-1zM234 316h1v1h-1zM531 316h1v1h-1zM235 317h1v1h-1zM530 317h1v1h-1zM236 318h1v1h-1zM529 318h1v1h-1zM237 319h1v1h-1zM528 319h1v1h-1zM237 320h2v1h-2zM527 320h1v1h-1zM239 321h1v1h-1zM526 321h1v1h-1zM240 322h1v1h-1zM524 322h2v1h-2zM241 323h2v1h-2zM523 323h1v1h-1zM243 324h1v1h-1zM522 324h1v1h-1zM244 325h1v1h-1zM521 325h1v1h-1zM245 326h2v1h-2zM520 326h1v1h-1zM247 327h1v1h-1zM519 327h1v1h-1zM248 328h1v1h-1zM518 328h1v1h-1zM249 329h2v1h-2zM517 329h1v1h-1zM251 330h1v1h-1zM515 330h2v1h-2zM252 331h1v1h-1zM514 331h1v1h-1zM253 332h2v1h-2zM513 332h1v1h-1zM255 333h1v1h-1zM512 333h1v1h-1zM256 334h1v1h-1zM511 334h1v1h-1zM257 335h2v1h-2zM510 335h1v1h-1zM259 336h1v1h-1zM509 336h1v1h-1zM260 337h1v1h-1zM508 337h1v1h-1zM261 338h1v1h-1zM506 338h2v1h-2zM262 339h2v1h-2zM505 339h1v1h-1zM264 340h1v1h-1zM504 340h1v1h-1zM265 341h1v1h-1zM503 341h1v1h-1zM266 342h2v1h-2zM502 342h1v1h-1zM268 343h1v1h-1zM501 343h1v1h-1zM269 344h1v1h-1zM500 344h1v1h-1zM270 345h2v1h-2zM499 345h1v1h-1zM272 346h1v1h-1zM497 346h2v1h-2zM273 347h1v1h-1zM496 347h1v1h-1zM274 348h2v1h-2zM495 348h1v1h-1zM276 349h1v1h-1zM494 349h1v1h-1zM277 350h1v1h-1zM493 350h1v1h-1zM278 351h2v1h-2zM492 351h1v1h-1zM280 352h1v1h-1zM491 352h1v1h-1zM281 353h1v1h-1zM489 353h2v1h-2zM282 354h2v1h-2zM488 354h1v1h-1zM284 355h1v1h-1zM487 355h1v1h-1zM285 356h1v1h-1zM486 356h1v1h-1zM286 357h2v1h-2zM485 357h1v1h-1zM288 358h1v1h-1zM484 358h1v1h-1zM289 359h1v1h-1zM483 359h1v1h-1zM290 360h2v1h-2zM482 360h1v1h-1zM292 361h1v1h-1zM480 361h2v1h-2zM293 362h1v1h-1zM479 362h1v1h-1zM294 363h2v1h-2zM478 363h1v1h-1zM296 364h1v1h-1zM477 364h1v1h-1zM297 365h1v1h-1zM476 365h1v1h-1zM298 366h1v1h-1zM475 366h1v1h-1zM299 367h2v1h-2zM474 367h1v1h-1zM301 368h1v1h-1zM473 368h1v1h-1zM302 369h1v1h-1zM471 369h2v1h-2zM303 370h2v1h-2zM470 370h1v1h-1zM305 371h1v1h-1zM469 371h1v1h-1zM306 372h1v1h-1zM468 372h1v1h-1zM307 373h2v1h-2zM466 373h2v1h-2zM309 374h1v1h-1zM462 374h4v1h-4zM310 375h1v1h-1zM459 375h3v1h-3zM311 376h2v1h-2zM456 376h3v1h-3zM313 377h1v1h-1zM452 377h4v1h-4zM314 378h1v1h-1zM449 378h3v1h-3zM315 379h2v1h-2zM445 379h4v1h-4zM317 380h1v1h-1zM442 380h3v1h-3zM318 381h1v1h-1zM438 381h4v1h-4zM319 382h2v1h-2zM435 382h3v1h-3zM321 383h1v1h-1zM432 383h3v1h-3zM322 384h1v1h-1zM428 384h4v1h-4zM323 385h2v1h-2zM425 385h3v1h-3zM325 386h1v1h-1zM421 386h4v1h-4zM326 387h1v1h-1zM418 387h3v1h-3zM327 388h2v1h-2zM414 388h4v1h-4zM329 389h1v1h-1zM411 389h3v1h-3zM330 390h1v1h-1zM408 390h3v1h-3zM331 391h2v1h-2zM404 391h4v1h-4zM333 392h1v1h-1zM401 392h3v1h-3zM334 393h1v1h-1zM397 393h4v1h-4zM335 394h2v1h-2zM394 394h3v1h-3zM337 395h1v1h-1zM390 395h4v1h-4zM338 396h1v1h-1zM387 396h3v1h-3zM339 397h1v1h-1zM384 397h3v1h-3zM340 398h2v1h-2zM380 398h4v1h-4zM342 399h1v1h-1zM377 399h3v1h-3zM343 400h1v1h-1zM373 400h4v1h-4zM344 401h2v1h-2zM370 401h3v1h-3zM346 402h1v1h-1zM367 402h3v1h-3zM347 403h1v1h-1zM363 403h4v1h-4zM348 404h2v1h-2zM360 404h3v1h-3zM350 405h1v1h-1zM356 405h4v1h-4zM351 406h1v1h-1zM353 406h3v1h-3zM352 407h1v1h-1z" fill="#808080"/>
<path d="M122 197h1v1h-1zM123 198h1v1h-1zM124 199h1v1h-1zM124 200h1v1h-1zM125 201h1v1h-1zM126 202h1v1h-1zM127 203h1v1h-1zM128 204h1v1h-1zM128 205h1v1h-1zM129 206h1v1h-1zM130 207h1v1h-1zM131 208h1v1h-1zM132 209h1v1h-1zM133 210h1v1h-1zM133 211h1v1h-1zM134 212h1v1h-1zM135 213h1v1h-1zM136 214h1v1h-1zM137 215h1v1h-1zM137 216h1v1h-1zM138 217h1v1h-1zM139 218h1v1h-1zM140 219h1v1h-1zM141 220h1v1h-1zM141 221h1v1h-1zM142 222h1v1h-1zM143 223h1v1h-1zM144 224h1v1h-1zM145 225h1v1h-1zM145 226h1v1h-1zM146 227h1v1h-1zM147 228h1v1h-1zM148 229h1v1h-1zM149 230h1v1h-1zM150 231h1v1h-1zM150 232h1v1h-1zM151 233h1v1h-1zM152 234h1v1h-1zM582 234h1v1h-1zM153 235h1v1h-1zM581 235h1v1h-1zM154 236h1v1h-1zM580 236h1v1h-1zM154 237h1v1h-1zM579 237h1v1h-1zM155 238h1v1h-1zM578 238h1v1h-1zM156 239h1v1h-1zM577 239h1v1h-1zM157 240h1v1h-1zM576 240h1v1h-1zM158 241h1v1h-1zM575 241h1v1h-1zM158 242h1v1h-1zM574 242h1v1h-1zM159 243h1v1h-1zM573 243h1v1h-1zM160 244h1v1h-1zM572 244h1v1h-1zM161 245h1v1h-1zM571 245h1v1h-1zM162 246h1v1h-1zM570 246h1v1h-1zM162 247h1v1h-1zM569 247h1v1h-1zM163 248h1v1h-1zM568 248h1v1h-1zM164 249h1v1h-1zM567 249h1v1h-1zM165 250h1v1h-1zM566 250h1v1h-1zM166 251h1v1h-1zM565 251h1v1h-1zM167 252h1v1h-1zM564 252h1v1h-1zM167 253h1v1h-1zM563 253h1v1h-1zM168 254h1v1h-1zM562 254h1v1h-1zM169 255h1v1h-1zM561 255h1v1h-1zM170 256h1v1h-1zM560 256h1v1h-1zM171 257h1v1h-1zM559 257h1v1h-1zM171 258h1v1h-1zM558 258h1v1h-1zM172 259h1v1h-1zM557 259h1v1h-1zM173 260h1v1h-1zM556 260h1v1h-1zM174 261h1v1h-1zM555 261h1v1h-1zM175 262h1v1h-1zM554 262h1v1h-1zM175 263h1v1h-1zM553 263h1v1h-1zM176 264h1v1h-1zM552 264h1v1h-1zM177 265h1v1h-1zM551 265h1v1h-1zM178 266h1v1h-1zM550 266h1v1h-1zM179 267h1v1h-1zM549 267h1v1h-1zM180 268h1v1h-1zM548 268h1v1h-1zM180 269h1v1h-1zM547 269h1v1h-1zM181 270h1v1h-1zM546 270h1v1h-1zM182 271h1v1h-1zM545 271h1v1h-1zM183 272h1v1h-1zM544 272h1v1h-1zM184 273h1v1h-1zM543 273h1v1h-1zM184 274h1v1h-1zM542 274h1v1h-1zM185 275h1v1h-1zM541 275h1v1h-1zM186 276h1v1h-1zM540 276h1v1h-1zM187 277h1v1h-1zM539 277h1v1h-1zM188 278h1v1h-1zM538 278h1v1h-1zM188 279h1v1h-1zM537 279h1v1h-1zM189 280h1v1h-1zM536 280h1v1h-1zM190 281h1v1h-1zM535 281h1v1h-1zM191 282h1v1h-1zM534 282h1v1h-1zM192 283h1v1h-1zM533 283h1v1h-1zM192 284h1v1h-1zM532 284h1v1h-1zM193 285h1v1h-1zM531 285h1v1h-1zM194 286h1v1h-1zM530 286h1v1h-1zM195 287h1v1h-1zM529 287h1v1h-1zM196 288h1v1h-1zM528 288h1v1h-1zM197 289h1v1h-1zM527 289h1v1h-1zM197 290h1v1h-1zM526 290h1v1h-1zM198 291h1v1h-1zM525 291h1v1h-1zM199 292h1v1h-1zM524 292h1v1h-1zM200 293h1v1h-1zM523 293h1v1h-1zM201 294h1v1h-1zM522 294h1v1h-1zM201 295h1v1h-1zM521 295h1v1h-1zM202 296h1v1h-1zM520 296h1v1h-1zM203 297h1v1h-1zM519 297h1v1h-1zM204 298h1v1h-1zM518 298h1v1h-1zM205 299h1v1h-1zM517 299h1v1h-1zM205 300h1v1h-1zM516 300h1v1h-1zM206 301h1v1h-1zM515 301h1v1h-1zM207 302h1v1h-1zM514 302h1v1h-1zM208 303h1v1h-1zM513 303h1v1h-1zM209 304h1v1h-1zM512 304h1v1h-1zM209 305h1v1h-1zM511 305h1v1h-1zM210 306h1v1h-1zM510 306h1v1h-1zM211 307h1v1h-1zM509 307h1v1h-1zM212 308h1v1h-1zM508 308h1v1h-1zM213 309h1v1h-1zM507 309h1v1h-1zM214 310h1v1h-1zM506 310h1v1h-1zM214 311h1v1h-1zM505 311h1v1h-1zM215 312h1v1h-1zM504 312h1v1h-1zM216 313h1v1h-1zM503 313h1v1h-1zM217 314h1v1h-1zM502 314h1v1h-1zM218 315h1v1h-1zM501 315h1v1h-1zM218 316h1v1h-1zM500 316h1v1h-1zM219 317h1v1h-1zM499 317h1v1h-1zM220 318h1v1h-1zM498 318h1v1h-1zM221 319h1v1h-1zM497 319h1v1h-1zM222 320h1v1h-1zM496 320h1v1h-1zM222 321h1v1h-1zM495 321h1v1h-1zM223 322h1v1h-1zM494 322h1v1h-1zM224 323h1v1h-1zM493 323h1v1h-1zM225 324h1v1h-1zM492 324h1v1h-1zM226 325h1v1h-1zM491 325h1v1h-1zM226 326h1v1h-1zM490 326h1v1h-1zM227 327h1v1h-1zM489 327h1v1h-1zM228 328h1v1h-1zM488 328h1v1h-1zM229 329h1v1h-1zM487 329h1v1h-1zM230 330h1v1h-1zM486 330h1v1h-1zM231 331h1v1h-1zM485 331h1v1h-1zM231 332h1v1h-1zM484 332h1v1h-1zM232 333h1v1h-1zM483 333h1v1h-1zM233 334h1v1h-1zM482 334h1v1h-1zM234 335h1v1h-1zM481 335h1v1h-1zM235 336h1v1h-1zM480 336h1v1h-1zM235 337h1v1h-1zM479 337h1v1h-1zM236 338h2v1h-2zM478 338h1v1h-1zM237 339h2v1h-2zM477 339h1v1h-1zM239 340h2v1h-2zM476 340h1v1h-1zM241 341h1v1h-1zM475 341h1v1h-1zM242 342h2v1h-2zM474 342h1v1h-1zM244 343h2v1h-2zM473 343h1v1h-1zM246 344h1v1h-1zM472 344h1v1h-1zM247 345h2v1h-2zM471 345h1v1h-1zM249 346h1v1h-1zM470 346h1v1h-1zM250 347h2v1h-2zM469 347h1v1h-1zM252 348h2v1h-2zM468 348h1v1h-1zM254 349h1v1h-1zM467 349h1v1h-1zM255 350h2v1h-2zM465 350h2v1h-2zM257 351h1v1h-1zM463 351h2v1h-2zM258 352h2v1h-2zM461 352h2v1h-2zM260 353h2v1h-2zM459 353h2v1h-2zM262 354h1v1h-1zM457 354h2v1h-2zM263 355h2v1h-2zM455 355h2v1h-2zM265 356h1v1h-1zM453 356h2v1h-2zM266 357h2v1h-2zM452 357h1v1h-1zM268 358h2v1h-2zM450 358h2v1h-2zM270 359h1v1h-1zM448 359h2v1h-2zM271 360h2v1h-2zM446 360h2v1h-2zM273 361h1v1h-1zM444 361h2v1h-2zM274 362h2v1h-2zM442 362h2v1h-2zM276 363h2v1h-2zM440 363h2v1h-2zM278 364h1v1h-1zM438 364h2v1h-2zM279 365h2v1h-2zM437 365h1v1h-1zM281 366h1v1h-1zM435 366h2v1h-2zM282 367h2v1h-2zM433 367h2v1h-2zM284 368h2v1h-2zM431 368h2v1h-2zM286 369h1v1h-1zM429 369h2v1h-2zM287 370h2v1h-2zM427 370h2v1h-2zM289 371h1v1h-1zM425 371h2v1h-2zM290 372h2v1h-2zM423 372h2v1h-2zM292 373h2v1h-2zM422 373h1v1h-1zM294 374h1v1h-1zM420 374h2v1h-2zM295 375h2v1h-2zM418 375h2v1h-2zM297 376h1v1h-1zM416 376h2v1h-2zM298 377h2v1h-2zM414 377h2v1h-2zM300 378h2v1h-2zM412 378h2v1h-2zM302 379h1v1h-1zM410 379h2v1h-2zM303 380h2v1h-2zM409 380h1v1h-1zM305 381h1v1h-1zM407 381h2v1h-2zM306 382h2v1h-2zM405 382h2v1h-2zM308 383h2v1h-2zM403 383h2v1h-2zM310 384h1v1h-1zM401 384h2v1h-2zM311 385h2v1h-2zM399 385h2v1h-2zM313 386h1v1h-1zM397 386h2v1h-2zM314 387h2v1h-2zM395 387h2v1h-2zM316 388h2v1h-2zM394 388h1v1h-1zM318 389h1v1h-1zM392 389h2v1h-2zM319 390h2v1h-2zM390 390h2v1h-2zM321 391h1v1h-1zM388 391h2v1h-2zM322 392h2v1h-2zM386 392h2v1h-2zM324 393h2v1h-2zM384 393h2v1h-2zM326 394h1v1h-1zM382 394h2v1h-2zM327 395h2v1h-2zM380 395h2v1h-2zM329 396h1v1h-1zM379 396h1v1h-1zM330 397h2v1h-2zM377 397h2v1h-2zM332 398h1v1h-1zM375 398h2v1h-2zM333 399h2v1h-2zM373 399h2v1h-2zM335 400h2v1h-2zM371 400h2v1h-2zM337 401h1v1h-1zM369 401h2v1h-2zM338 402h2v1h-2zM367 402h2v1h-2zM340 403h1v1h-1zM365 403h2v1h-2zM341 404h2v1h-2zM364 404h1v1h-1zM343 405h2v1h-2zM362 405h2v1h-2zM345 406h1v1h-1zM360 406h2v1h-2zM346 407h2v1h-2zM358 407h2v1h-2zM348 408h1v1h-1zM356 408h2v1h-2zM349 409h2v1h-2zM354 409h2v1h-2zM351 410h3v1h-3z" fill="#a00030"/>
<path d="M70 416.5H641" stroke="#000" fill="none"/>
<path d="M116 101h11v1h-11zM116 102h11v1h-11zM116 103h11v1h-11zM116 104h11v1h-11zM116 105h11v1h-11zM116 106h11v1h-11zM116 107h11v1h-11zM116 108h11v1h-11z" fill="#ff0000"/>
<path d="M231 249h12v1h-12zM231 250h12v1h-12zM231 251h12v1h-12zM231 252h12v1h-12zM231 253h12v1h-12zM231 254h12v1h-12zM231 255h12v1h-12zM231 256h12v1h-12z" fill="#ff0000"/>
<path d="M347 352h11v1h-11zM347 353h11v1h-11zM347 354h11v1h-11zM347 355h11v1h-11zM347 356h11v1h-11zM347 357h11v1h-11zM347 358h11v1h-11zM347 359h11v1h-11zM347 360h11v1h-11z" fill="#ff0000"/>
<path d="M462 412h11v1h-11zM462 413h11v1h-11zM462 414h11v1h-11zM462 415h11v1h-11z" fill="#ff0000"/>
<path d="M577 377h11v1h-11zM577 378h11v1h-11zM577 379h11v1h-11zM577 380h11v1h-11zM577 381h11v1h-11zM577 382h11v1h-11zM577 383h11v1h-11zM577 384h11v1h-11z" fill="#ff0000"/>
<path d="M116 123h12v1h-12zM117 124h10v1h-10zM118 125h9v1h-9zM118 126h8v1h-8zM119 127h6v1h-6zM120 128h5v1h-5zM121 129h3v1h-3zM121 130h3v1h-3zM122 131h1v1h-1z" fill="#009933"/><path d="M119 124h1v1h-1zM121 124h1v1h-1zM123 124h1v1h-1zM125 124h1v1h-1zM120 125h1v1h-1zM122 125h1v1h-1zM124 125h1v1h-1zM119 126h1v1h-1zM121 126h1v1h-1zM123 126h1v1h-1zM120 127h1v1h-1zM122 127h1v1h-1zM121 128h1v1h-1zM123 128h1v1h-1zM122 129h1v1h-1z" fill="#005a3c"/><path d="M119 125h1v1h-1zM121 125h1v1h-1zM123 125h1v1h-1zM125 125h1v1h-1zM121 127h1v1h-1zM123 127h1v1h-1z" fill="#00a070"/>
<path d="M231 271h12v1h-12zM232 272h10v1h-10zM232 273h10v1h-10zM233 274h8v1h-8zM234 275h7v1h-7zM234 276h6v1h-6zM235 277h5v1h-5zM236 278h3v1h-3zM236 279h3v1h-3zM237 280h1v1h-1z" fill="#009933"/><path d="M233 272h1v1h-1zM235 272h1v1h-1zM237 272h1v1h-1zM239 272h1v1h-1zM234 273h1v1h-1zM236 273h1v1h-1zM238 273h1v1h-1zM240 273h1v1h-1zM235 274h1v1h-1zM237 274h1v1h-1zM239 274h1v1h-1zM236 275h1v1h-1zM238 275h1v1h-1zM235 276h1v1h-1zM237 276h1v1h-1zM236 277h1v1h-1zM238 277h1v1h-1zM237 278h1v1h-1z" fill="#005a3c"/><path d="M233 273h1v1h-1zM235 273h1v1h-1zM237 273h1v1h-1zM239 273h1v1h-1zM235 275h1v1h-1zM237 275h1v1h-1zM239 275h1v1h-1zM237 277h1v1h-1zM237 279h1v1h-1z" fill="#00a070"/>
<path d="M347 374h12v1h-12zM348 375h10v1h-10zM348 376h9v1h-9zM349 377h8v1h-8zM350 378h6v1h-6zM350 379h5v1h-5zM351 380h3v1h-3zM351 381h3v1h-3zM352 382h1v1h-1z" fill="#009933"/><path d="M350 375h1v1h-1zM352 375h1v1h-1zM354 375h1v1h-1zM356 375h1v1h-1zM349 376h1v1h-1zM351 376h1v1h-1zM353 376h1v1h-1zM355 376h1v1h-1zM350 377h1v1h-1zM352 377h1v1h-1zM354 377h1v1h-1zM351 378h1v1h-1zM353 378h1v1h-1zM352 379h1v1h-1zM352 381h1v1h-1z" fill="#005a3c"/><path d="M349 375h1v1h-1zM351 375h1v1h-1zM353 375h1v1h-1zM355 375h1v1h-1zM351 377h1v1h-1zM353 377h1v1h-1zM355 377h1v1h-1zM351 379h1v1h-1zM353 379h1v1h-1z" fill="#00a070"/>
<path d="M462 408h12v1h-12zM463 409h10v1h-10zM463 410h9v1h-9zM464 411h8v1h-8zM465 412h6v1h-6zM465 413h5v1h-5zM466 414h3v1h-3zM466 415h3v1h-3zM467 416h1v1h-1z" fill="#009933"/><path d="M464 409h1v1h-1zM466 409h1v1h-1zM468 409h1v1h-1zM470 409h1v1h-1zM465 410h1v1h-1zM467 410h1v1h-1zM469 410h1v1h-1zM466 411h1v1h-1zM468 411h1v1h-1zM470 411h1v1h-1zM467 412h1v1h-1zM469 412h1v1h-1zM466 413h1v1h-1zM468 413h1v1h-1zM467 414h1v1h-1z" fill="#005a3c"/><path d="M465 409h1v1h-1zM467 409h1v1h-1zM469 409h1v1h-1zM471 409h1v1h-1zM465 411h1v1h-1zM467 411h1v1h-1zM469 411h1v1h-1zM467 413h1v1h-1zM467 415h1v1h-1z" fill="#00a070"/>
<path d="M577 341h12v1h-12zM578 342h10v1h-10zM578 343h10v1h-10zM579 344h8v1h-8zM579 345h7v1h-7zM580 346h6v1h-6zM580 347h5v1h-5zM581 348h3v1h-3zM581 349h3v1h-3zM582 350h1v1h-1z" fill="#009933"/><path d="M579 342h1v1h-1zM581 342h1v1h-1zM583 342h1v1h-1zM585 342h1v1h-1zM580 343h1v1h-1zM582 343h1v1h-1zM584 343h1v1h-1zM586 343h1v1h-1zM581 344h1v1h-1zM583 344h1v1h-1zM585 344h1v1h-1zM580 345h1v1h-1zM582 345h1v1h-1zM584 345h1v1h-1zM581 346h1v1h-1zM583 346h1v1h-1zM582 347h1v1h-1zM582 349h1v1h-1z" fill="#005a3c"/><path d="M579 343h1v1h-1zM581 343h1v1h-1zM583 343h1v1h-1zM585 343h1v1h-1zM581 345h1v1h-1zM583 345h1v1h-1zM581 347h1v1h-1zM583 347h1v1h-1z" fill="#00a070"/>
<path d="M119 147h5v1h-5zM118 148h7v1h-7zM117 149h9v1h-9zM116 150h11v1h-11zM116 151h11v1h-11zM117 152h9v1h-9zM118 153h7v1h-7zM119 154h5v1h-5z" fill="#0000ff"/>
<path d="M234 294h6v1h-6zM233 295h8v1h-8zM232 296h10v1h-10zM231 297h12v1h-12zM231 298h12v1h-12zM231 299h12v1h-12zM232 300h10v1h-10zM233 301h8v1h-8zM234 302h6v1h-6z" fill="#0000ff"/>
<path d="M350 391h5v1h-5zM349 392h7v1h-7zM348 393h9v1h-9zM347 394h11v1h-11zM347 395h11v1h-11zM347 396h11v1h-11zM348 397h9v1h-9zM349 398h7v1h-7zM350 399h5v1h-5z" fill="#0000ff"/>
<path d="M465 391h5v1h-5zM464 392h7v1h-7zM463 393h9v1h-9zM462 394h11v1h-11zM462 395h11v1h-11zM462 396h11v1h-11zM463 397h9v1h-9zM464 398h7v1h-7zM465 399h5v1h-5z" fill="#0000ff"/>
<path d="M580 304h5v1h-5zM579 305h7v1h-7zM578 306h9v1h-9zM577 307h11v1h-11zM577 308h11v1h-11zM578 309h9v1h-9zM579 310h7v1h-7zM580 311h5v1h-5z" fill="#0000ff"/>
<path d="M121 171h3v1h-3zM120 172h4v1h-4zM120 173h5v1h-5zM119 174h7v1h-7zM118 175h8v1h-8zM117 176h10v1h-10zM117 177h10v1h-10zM116 178h12v1h-12z" fill="#808080"/>
<path d="M236 316h3v1h-3zM235 317h4v1h-4zM235 318h5v1h-5zM234 319h7v1h-7zM233 320h8v1h-8zM232 321h10v1h-10zM232 322h10v1h-10zM231 323h12v1h-12z" fill="#808080"/>
<path d="M351 404h3v1h-3zM351 405h4v1h-4zM350 406h5v1h-5zM349 407h7v1h-7zM349 408h8v1h-8zM348 409h10v1h-10zM348 410h10v1h-10zM347 411h12v1h-12z" fill="#808080"/>
<path d="M466 370h3v1h-3zM466 371h4v1h-4zM465 372h5v1h-5zM464 373h7v1h-7zM464 374h8v1h-8zM463 375h10v1h-10zM463 376h10v1h-10zM462 377h12v1h-12z" fill="#808080"/>
<path d="M581 268h3v1h-3zM581 269h4v1h-4zM580 270h5v1h-5zM579 271h7v1h-7zM579 272h8v1h-8zM578 273h10v1h-10zM578 274h10v1h-10zM577 275h12v1h-12z" fill="#808080"/>
<path d="M116 193h12v1h-12zM117 194h10v1h-10zM118 195h8v1h-8zM119 196h6v1h-6zM121 197h2v1h-2zM119 198h6v1h-6zM118 199h8v1h-8zM117 200h10v1h-10zM116 201h12v1h-12z" fill="#a00030"/><path d="M119 194h1v1h-1zM121 194h1v1h-1zM123 194h1v1h-1zM125 194h1v1h-1zM120 195h1v1h-1zM122 195h1v1h-1zM124 195h1v1h-1zM121 196h1v1h-1zM123 196h1v1h-1zM121 198h1v1h-1zM123 198h1v1h-1zM120 199h1v1h-1zM122 199h1v1h-1zM124 199h1v1h-1zM119 200h1v1h-1zM121 200h1v1h-1zM123 200h1v1h-1zM125 200h1v1h-1z" fill="#600050"/><path d="M119 195h1v1h-1zM121 195h1v1h-1zM123 195h1v1h-1zM119 199h1v1h-1zM121 199h1v1h-1zM123 199h1v1h-1z" fill="#b00080"/>
<path d="M231 335h12v1h-12zM232 336h10v1h-10zM233 337h8v1h-8zM234 338h6v1h-6zM236 339h2v1h-2zM234 340h6v1h-6zM233 341h8v1h-8zM232 342h10v1h-10zM231 343h12v1h-12z" fill="#a00030"/><path d="M233 336h1v1h-1zM235 336h1v1h-1zM237 336h1v1h-1zM239 336h1v1h-1zM234 337h1v1h-1zM236 337h1v1h-1zM238 337h1v1h-1zM235 338h1v1h-1zM237 338h1v1h-1zM235 340h1v1h-1zM237 340h1v1h-1zM234 341h1v1h-1zM236 341h1v1h-1zM238 341h1v1h-1zM233 342h1v1h-1zM235 342h1v1h-1zM237 342h1v1h-1zM239 342h1v1h-1z" fill="#600050"/><path d="M235 337h1v1h-1zM237 337h1v1h-1zM239 337h1v1h-1zM235 341h1v1h-1zM237 341h1v1h-1zM239 341h1v1h-1z" fill="#b00080"/>
<path d="M347 406h12v1h-12zM348 407h10v1h-10zM349 408h8v1h-8zM350 409h6v1h-6zM352 410h2v1h-2zM351 411h4v1h-4zM350 412h6v1h-6zM349 413h8v1h-8zM348 414h10v1h-10zM347 415h12v1h-12z" fill="#a00030"/><path d="M350 407h1v1h-1zM352 407h1v1h-1zM354 407h1v1h-1zM356 407h1v1h-1zM351 408h1v1h-1zM353 408h1v1h-1zM355 408h1v1h-1zM352 409h1v1h-1zM354 409h1v1h-1zM352 411h1v1h-1zM351 412h1v1h-1zM353 412h1v1h-1zM350 413h1v1h-1zM352 413h1v1h-1zM354 413h1v1h-1zM349 414h1v1h-1zM351 414h1v1h-1zM353 414h1v1h-1zM355 414h1v1h-1z" fill="#600050"/><path d="M349 407h1v1h-1zM351 407h1v1h-1zM353 407h1v1h-1zM355 407h1v1h-1zM351 409h1v1h-1zM353 409h1v1h-1zM353 411h1v1h-1zM351 413h1v1h-1zM353 413h1v1h-1zM355 413h1v1h-1z" fill="#b00080"/>
<path d="M462 345h12v1h-12zM463 346h10v1h-10zM464 347h8v1h-8zM465 348h6v1h-6zM467 349h2v1h-2zM465 350h6v1h-6zM464 351h8v1h-8zM463 352h10v1h-10zM462 353h12v1h-12z" fill="#a00030"/><path d="M465 346h1v1h-1zM467 346h1v1h-1zM469 346h1v1h-1zM471 346h1v1h-1zM466 347h1v1h-1zM468 347h1v1h-1zM470 347h1v1h-1zM467 348h1v1h-1zM469 348h1v1h-1zM467 350h1v1h-1zM469 350h1v1h-1zM466 351h1v1h-1zM468 351h1v1h-1zM470 351h1v1h-1zM465 352h1v1h-1zM467 352h1v1h-1zM469 352h1v1h-1zM471 352h1v1h-1z" fill="#600050"/><path d="M465 347h1v1h-1zM467 347h1v1h-1zM469 347h1v1h-1zM465 351h1v1h-1zM467 351h1v1h-1zM469 351h1v1h-1z" fill="#b00080"/>
<path d="M577 230h12v1h-12zM578 231h10v1h-10zM579 232h8v1h-8zM580 233h6v1h-6zM582 234h2v1h-2zM581 235h4v1h-4zM580 236h6v1h-6zM579 237h8v1h-8zM578 238h10v1h-10zM577 239h12v1h-12z" fill="#a00030"/><path d="M580 231h1v1h-1zM582 231h1v1h-1zM584 231h1v1h-1zM586 231h1v1h-1zM581 232h1v1h-1zM583 232h1v1h-1zM585 232h1v1h-1zM582 233h1v1h-1zM584 233h1v1h-1zM582 235h1v1h-1zM581 236h1v1h-1zM583 236h1v1h-1zM580 237h1v1h-1zM582 237h1v1h-1zM584 237h1v1h-1zM579 238h1v1h-1zM581 238h1v1h-1zM583 238h1v1h-1zM585 238h1v1h-1z" fill="#600050"/><path d="M579 231h1v1h-1zM581 231h1v1h-1zM583 231h1v1h-1zM585 231h1v1h-1zM581 233h1v1h-1zM583 233h1v1h-1zM583 235h1v1h-1zM581 237h1v1h-1zM583 237h1v1h-1zM585 237h1v1h-1z" fill="#b00080"/>
</g>
<g shape-rendering="crispEdges">
<rect x="153.5" y="474.5" width="398" height="46" fill="none" stroke="#000"/>
<path d="M162 497.5H195" stroke="#ff0000" fill="none"/>
<path d="M173 493h11v1h-11zM173 494h11v1h-11zM173 495h11v1h-11zM173 496h11v1h-11zM173 497h11v1h-11zM173 498h11v1h-11zM173 499h11v1h-11zM173 500h11v1h-11z" fill="#ff0000"/>
<path d="M240 497.5H273" stroke="#009933" fill="none"/>
<path d="M251 493h12v1h-12zM252 494h10v1h-10zM253 495h9v1h-9zM253 496h8v1h-8zM254 497h7v1h-7zM255 498h5v1h-5zM256 499h4v1h-4zM256 500h3v1h-3zM257 501h1v1h-1z" fill="#009933"/><path d="M253 494h1v1h-1zM255 494h1v1h-1zM257 494h1v1h-1zM259 494h1v1h-1zM254 495h1v1h-1zM256 495h1v1h-1zM258 495h1v1h-1zM260 495h1v1h-1zM255 496h1v1h-1zM257 496h1v1h-1zM259 496h1v1h-1zM256 497h1v1h-1zM258 497h1v1h-1zM257 498h1v1h-1zM258 499h1v1h-1zM257 500h1v1h-1z" fill="#005a3c"/><path d="M255 495h1v1h-1zM257 495h1v1h-1zM259 495h1v1h-1zM255 497h1v1h-1zM257 497h1v1h-1zM259 497h1v1h-1zM257 499h1v1h-1z" fill="#00a070"/>
<path d="M317 497.5H351" stroke="#0000ff" fill="none"/>
<path d="M332 493h5v1h-5zM331 494h7v1h-7zM330 495h9v1h-9zM329 496h11v1h-11zM329 497h11v1h-11zM330 498h9v1h-9zM331 499h7v1h-7zM332 500h5v1h-5z" fill="#0000ff"/>
<path d="M395 497.5H429" stroke="#808080" fill="none"/>
<path d="M411 493h2v1h-2zM410 494h3v1h-3zM410 495h4v1h-4zM409 496h5v1h-5zM409 497h6v1h-6zM408 498h8v1h-8zM407 499h10v1h-10zM407 500h10v1h-10zM406 501h12v1h-12z" fill="#808080"/>
<path d="M473 497.5H507" stroke="#a00030" fill="none"/>
<path d="M484 493h12v1h-12zM485 494h10v1h-10zM487 495h7v1h-7zM488 496h5v1h-5zM489 497h2v1h-2zM488 498h5v1h-5zM487 499h7v1h-7zM485 500h10v1h-10zM484 501h12v1h-12z" fill="#a00030"/><path d="M487 494h1v1h-1zM489 494h1v1h-1zM491 494h1v1h-1zM493 494h1v1h-1zM488 495h1v1h-1zM490 495h1v1h-1zM492 495h1v1h-1zM489 496h1v1h-1zM491 496h1v1h-1zM489 498h1v1h-1zM491 498h1v1h-1zM488 499h1v1h-1zM490 499h1v1h-1zM492 499h1v1h-1zM487 500h1v1h-1zM489 500h1v1h-1zM491 500h1v1h-1zM493 500h1v1h-1z" fill="#600050"/><path d="M489 495h1v1h-1zM491 495h1v1h-1zM489 499h1v1h-1zM491 499h1v1h-1z" fill="#b00080"/>
</g>
</svg></body></html>
